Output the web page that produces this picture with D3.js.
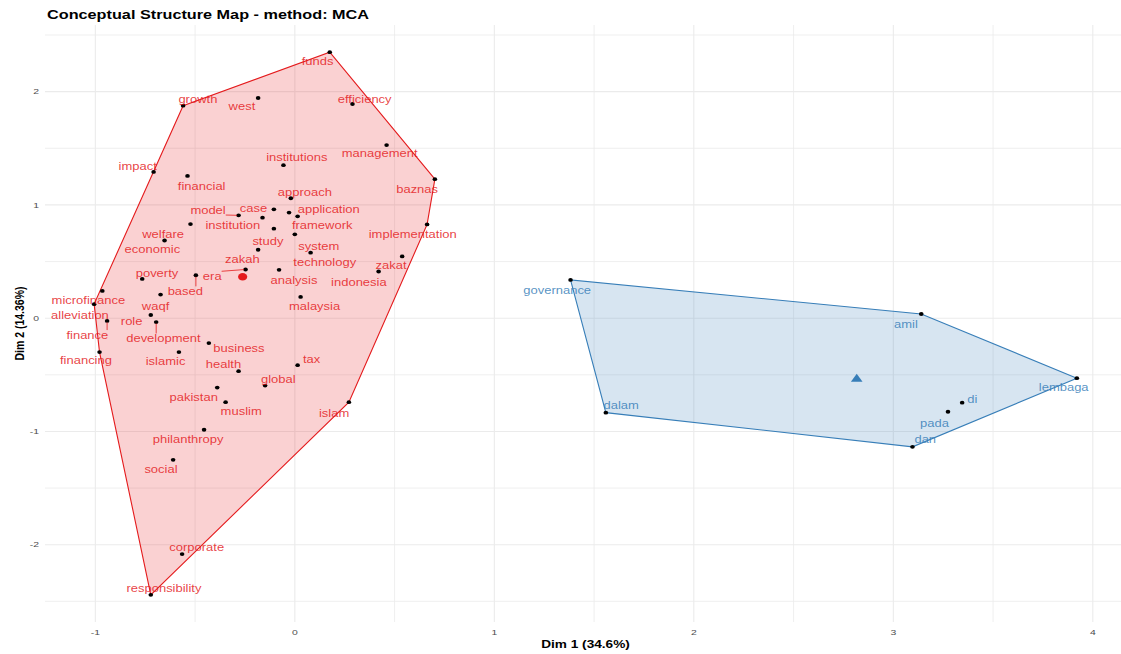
<!DOCTYPE html>
<html>
<head>
<meta charset="utf-8">
<script src="https://cdn.jsdelivr.net/npm/d3@7"></script>
<style>
  body { margin: 0; background: #fff; }
  svg { display: block; font-family: 'Liberation Sans', Arial, sans-serif; }
</style>
</head>
<body>
<div id="chart"></div>
<script>
// words of the map, MCA coordinates, cluster id
const words = ['funds', 'growth', 'west', 'efficiency', 'management', 'institutions', 'impact', 'financial',
  'baznas', 'approach', 'model', 'institution', 'case', 'framework', 'application', 'welfare', 'study',
  'system', 'implementation', 'economic', 'zakah', 'technology', 'zakat', 'era', 'analysis', 'indonesia',
  'poverty', 'based', 'microfinance', 'waqf', 'malaysia', 'alleviation', 'role', 'finance', 'development',
  'business', 'financing', 'islamic', 'tax', 'health', 'global', 'pakistan', 'muslim', 'islam',
  'philanthropy', 'social', 'corporate', 'responsibility',
  'governance', 'amil', 'lembaga', 'di', 'pada', 'dan', 'dalam'];

const dim1 = [0.175, -0.560, -0.184, 0.289, 0.460, -0.057, -0.708, -0.538,
  0.702, -0.020, -0.282, -0.162, -0.105, -0.029, 0.014, -0.523, -0.105,
  0.000, 0.663, -0.653, -0.184, 0.079, 0.538, -0.247, -0.079, 0.420,
  -0.765, -0.496, -0.965, -0.673, 0.029, -1.006, -0.722, -0.941, -0.695,
  -0.431, -0.979, -0.581, 0.014, -0.282, -0.149, -0.389, -0.347, 0.271,
  -0.455, -0.610, -0.565, -0.722,
  1.382, 3.140, 3.920, 3.345, 3.274, 3.096, 1.559];

const dim2 = [2.349, 1.876, 1.944, 1.891, 1.528, 1.351, 1.291, 1.256,
  1.227, 1.059, 0.908, 0.887, 0.961, 0.932, 0.899, 0.831, 0.790,
  0.740, 0.828, 0.686, 0.604, 0.578, 0.545, 0.430, 0.427, 0.412,
  0.347, 0.379, 0.241, 0.208, 0.188, 0.124, 0.028, -0.024, -0.034,
  -0.220, -0.299, -0.299, -0.415, -0.468, -0.595, -0.613, -0.742, -0.742,
  -0.985, -1.251, -2.083, -2.443,
  0.338, 0.037, -0.530, -0.746, -0.826, -1.136, -0.834];

const cluster = [1, 1, 1, 1, 1, 1, 1, 1, 1, 1, 1, 1, 1, 1, 1, 1, 1, 1, 1, 1, 1, 1, 1, 1,
  1, 1, 1, 1, 1, 1, 1, 1, 1, 1, 1, 1, 1, 1, 1, 1, 1, 1, 1, 1, 1, 1, 1, 1,
  2, 2, 2, 2, 2, 2, 2];

// repelled label positions, same units as the dims
const labelDim1 = [0.114, -0.486, -0.265, 0.350, 0.425, 0.010, -0.788, -0.467,
  0.613, 0.050, -0.435, -0.311, -0.207, 0.137, 0.170, -0.660, -0.135,
  0.120, 0.591, -0.714, -0.263, 0.150, 0.482, -0.414, -0.004, 0.321,
  -0.691, -0.549, -1.035, -0.698, 0.099, -1.077, -0.818, -1.040, -0.659,
  -0.280, -1.047, -0.648, 0.084, -0.358, -0.083, -0.507, -0.269, 0.197,
  -0.535, -0.671, -0.492, -0.656,
  1.315, 3.063, 3.854, 3.396, 3.206, 3.160, 1.636];

const labelDim2 = [2.266, 1.935, 1.869, 1.935, 1.457, 1.417, 1.342, 1.167,
  1.138, 1.109, 0.955, 0.822, 0.967, 0.822, 0.961, 0.737, 0.675,
  0.636, 0.740, 0.607, 0.518, 0.489, 0.465, 0.370, 0.335, 0.317,
  0.394, 0.237, 0.158, 0.105, 0.105, 0.028, -0.031, -0.149, -0.179,
  -0.264, -0.376, -0.383, -0.361, -0.412, -0.539, -0.698, -0.828, -0.840,
  -1.070, -1.336, -2.021, -2.390,
  0.246, -0.058, -0.609, -0.716, -0.926, -1.067, -0.775];

const clusterColors = {1: '#E41A1C', 2: '#377EB8'};
const chartTitle = 'Conceptual Structure Map - method: MCA';
const xTitle = 'Dim 1 (34.6%)';
const yTitle = 'Dim 2 (14.36%)';

const width = 1121;
const height = 654;
const panel = {left: 45, right: 1126, top: 25, bottom: 622};
const stretch = 1.3; // the reference text is drawn wide
const minSegment = 8.8; // px, shorter gaps get no leader line

const expand = ext => {
  const p = (ext[1] - ext[0]) * 0.05;
  return [ext[0] - p, ext[1] + p];
};

const x = d3.scaleLinear().domain(expand(d3.extent(dim1))).range([panel.left, panel.right]);
const y = d3.scaleLinear().domain(expand(d3.extent(dim2))).range([panel.bottom, panel.top]);

const rows = words.map((w, i) => ({
  word: w, d1: dim1[i], d2: dim2[i], cl: cluster[i], l1: labelDim1[i], l2: labelDim2[i],
}));

const svg = d3.select('#chart').append('svg')
  .attr('width', width)
  .attr('height', height);

svg.append('rect').attr('width', width).attr('height', height).attr('fill', '#fff');

// grid
const xMajor = d3.range(Math.ceil(x.domain()[0]), Math.floor(x.domain()[1]) + 1);
const yMajor = d3.range(Math.ceil(y.domain()[0]), Math.floor(y.domain()[1]) + 1);
const xMinor = d3.range(Math.ceil(x.domain()[0] * 2), Math.floor(x.domain()[1] * 2) + 1).map(v => v / 2).filter(v => v % 1 !== 0);
const yMinor = d3.range(Math.ceil(y.domain()[0] * 2), Math.floor(y.domain()[1] * 2) + 1).map(v => v / 2).filter(v => v % 1 !== 0);

let grid = svg.append('g').attr('stroke', '#EBEBEB');
grid.selectAll('.vminor').data(xMinor).enter().append('line')
  .attr('x1', d => x(d)).attr('x2', d => x(d))
  .attr('y1', panel.top).attr('y2', panel.bottom).attr('stroke-width', 0.8);
grid.selectAll('.hminor').data(yMinor).enter().append('line')
  .attr('y1', d => y(d)).attr('y2', d => y(d))
  .attr('x1', panel.left).attr('x2', panel.right).attr('stroke-width', 0.8);
grid.selectAll('.vmajor').data(xMajor).enter().append('line')
  .attr('x1', d => x(d)).attr('x2', d => x(d))
  .attr('y1', panel.top).attr('y2', panel.bottom).attr('stroke-width', 1.1);
grid.selectAll('.hmajor').data(yMajor).enter().append('line')
  .attr('y1', d => y(d)).attr('y2', d => y(d))
  .attr('x1', panel.left).attr('x2', panel.right).attr('stroke-width', 1.1);

// hulls
const groups = d3.groups(rows, d => d.cl);
svg.append('g').selectAll('path')
  .data(groups)
  .enter().append('path')
    .attr('d', g => 'M' + d3.polygonHull(g[1].map(d => [x(d.d1), y(d.d2)])).join('L') + 'Z')
    .attr('fill', g => clusterColors[g[0]])
    .attr('fill-opacity', 0.2)
    .attr('stroke', g => clusterColors[g[0]])
    .attr('stroke-width', 1.1);

// points
svg.append('g').selectAll('ellipse')
  .data(rows)
  .enter().append('ellipse')
    .attr('cx', d => x(d.d1))
    .attr('cy', d => y(d.d2))
    .attr('rx', 2.3)
    .attr('ry', 1.9)
    .attr('fill', '#000');

// labels
let labels = svg.append('g').selectAll('g')
  .data(rows)
  .enter().append('g')
    .attr('transform', d => `translate(${x(d.l1)},${y(d.l2)})`);

labels.append('text')
  .attr('transform', `scale(${stretch},1)`)
  .attr('text-anchor', 'middle')
  .attr('dy', '0.35em')
  .attr('font-size', 10)
  .attr('fill', d => clusterColors[d.cl])
  .attr('fill-opacity', 0.85)
  .text(d => d.word);

// segments from far labels to their points
let segs = [];
labels.each(function(d) {
  let w = this.querySelector('text').getComputedTextLength() * stretch;
  let cx = x(d.l1), cy = y(d.l2);
  let px = x(d.d1), py = y(d.d2);
  let bx = Math.max(cx - w / 2, Math.min(px, cx + w / 2));
  let by = Math.max(cy - 5, Math.min(py, cy + 5));
  let dist = Math.hypot(px - bx, py - by);
  if (dist > minSegment) {
    let k = (dist - 1.5) / dist;
    segs.push({x1: bx, y1: by, x2: bx + (px - bx) * k, y2: by + (py - by) * k, cl: d.cl});
  }
});
svg.append('g').selectAll('line')
  .data(segs)
  .enter().append('line')
    .attr('x1', d => d.x1).attr('y1', d => d.y1)
    .attr('x2', d => d.x2).attr('y2', d => d.y2)
    .attr('stroke', d => clusterColors[d.cl])
    .attr('stroke-width', 0.8);

// centroids
const centroids = groups.map(g => ({cl: g[0], d1: d3.mean(g[1], d => d.d1), d2: d3.mean(g[1], d => d.d2)}));
svg.append('g').selectAll('path')
  .data(centroids)
  .enter().append('path')
    .attr('transform', d => `translate(${x(d.d1)},${y(d.d2)})`)
    .attr('d', d => d.cl === 1
      ? 'M-4.6,0a4.6,3.7 0 1,0 9.2,0a4.6,3.7 0 1,0 -9.2,0Z'
      : 'M-5.8,3.8L0,-4.2L5.8,3.8Z')
    .attr('fill', d => clusterColors[d.cl]);

// axis tick labels
svg.append('g').selectAll('text')
  .data(xMajor)
  .enter().append('text')
    .attr('transform', d => `translate(${x(d)},${panel.bottom + 13}) scale(${stretch},1)`)
    .attr('text-anchor', 'middle')
    .attr('font-size', 8)
    .attr('fill', '#4D4D4D')
    .text(d => d < 0 ? '-' + Math.abs(d) : d);

svg.append('g').selectAll('text')
  .data(yMajor)
  .enter().append('text')
    .attr('transform', d => `translate(${panel.left - 6},${y(d)}) scale(${stretch},1)`)
    .attr('text-anchor', 'end')
    .attr('dy', '0.35em')
    .attr('font-size', 8)
    .attr('fill', '#4D4D4D')
    .text(d => d < 0 ? '-' + Math.abs(d) : d);

// titles
svg.append('text')
  .attr('transform', `translate(${(panel.left + panel.right) / 2},648) scale(${stretch},1)`)
  .attr('text-anchor', 'middle')
  .attr('font-size', 10.5)
  .attr('font-weight', 'bold')
  .text(xTitle);

svg.append('text')
  .attr('transform', `translate(24,${(panel.top + panel.bottom) / 2}) scale(${stretch},1) rotate(-90)`)
  .attr('text-anchor', 'middle')
  .attr('font-size', 10.5)
  .attr('font-weight', 'bold')
  .text(yTitle);

svg.append('text')
  .attr('transform', `translate(47,19) scale(${stretch},1)`)
  .attr('font-size', 12.5)
  .attr('font-weight', 'bold')
  .text(chartTitle);
</script>
</body>
</html>
